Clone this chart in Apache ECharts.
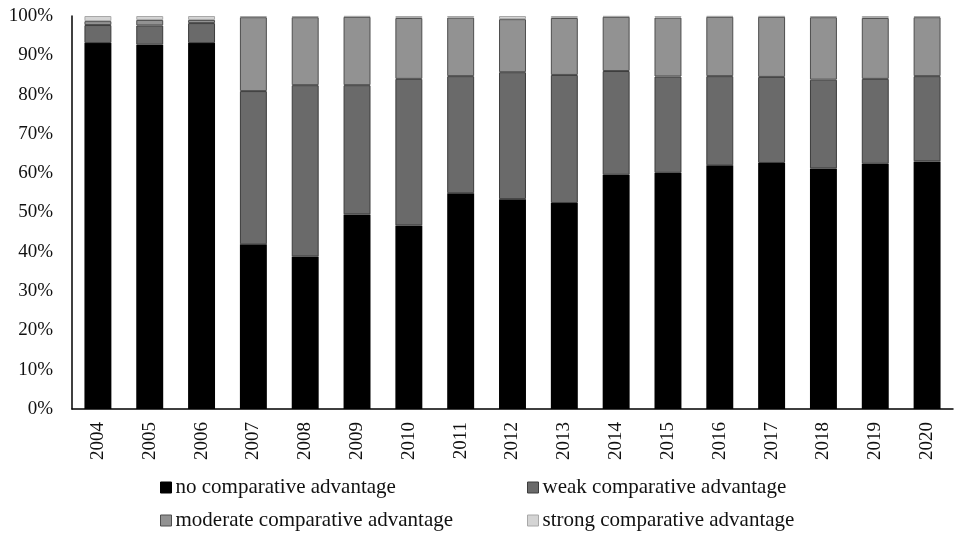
<!DOCTYPE html>
<html>
<head>
<meta charset="utf-8">
<script src="https://cdn.jsdelivr.net/npm/echarts@6/dist/echarts.min.js"></script>
<style>
  html, body { margin: 0; padding: 0; background: #fff; }
  #chart { width: 954px; height: 550px; }
</style>
</head>
<body>
<div id="chart"></div>
<script>
// Share of products by level of revealed comparative advantage, 2004-2020 (%)
const years = ['2004','2005','2006','2007','2008','2009','2010','2011','2012','2013','2014','2015','2016','2017','2018','2019','2020'];
const noAdv       = [93.1, 92.7, 93.1, 41.9, 38.8, 49.5, 46.7, 54.9, 53.4, 52.4, 59.6, 60.1, 62.0, 62.6, 61.2, 62.4, 63.0];
const weakAdv     = [4.6, 4.9, 5.1, 39.0, 43.6, 32.9, 37.3, 29.8, 32.3, 32.6, 26.4, 24.5, 22.7, 21.9, 22.6, 21.6, 21.7];
const moderateAdv = [1.0, 1.4, 0.8, 18.8, 17.3, 17.4, 15.5, 14.9, 13.5, 14.5, 13.8, 15.0, 15.1, 15.3, 15.9, 15.5, 15.0];
const strongAdv   = [1.3, 1.0, 1.0, 0.3, 0.3, 0.2, 0.5, 0.4, 0.8, 0.5, 0.2, 0.4, 0.2, 0.2, 0.3, 0.5, 0.3];
const yTicks = [0, 10, 20, 30, 40, 50, 60, 70, 80, 90, 100];

const names = ['no comparative advantage', 'weak comparative advantage',
               'moderate comparative advantage', 'strong comparative advantage'];
const fills = ['#000000', '#6a6a6a', '#929292', '#d4d4d4'];
const edges = ['#000000', '#3c3c3c', '#4e4e4e', '#a8a8a8'];
const values = [noAdv, weakAdv, moderateAdv, strongAdv];

const FONT = '"Liberation Serif", "DejaVu Serif", serif';

const chart = echarts.init(document.getElementById('chart'), null, { renderer: 'canvas' });

function legendAt(i, left, top) {
  return {
    data: [names[i]],
    left: left, top: top,
    orient: 'horizontal',
    icon: 'rect',
    itemWidth: 11, itemHeight: 11,
    itemGap: 0,
    padding: 0,
    selectedMode: false,
    textStyle: { fontFamily: FONT, fontSize: 21, color: '#111', padding: [0, 0, 0, -1] },
    itemStyle: { borderWidth: 1 }
  };
}

chart.setOption({
  animation: false,
  backgroundColor: '#ffffff',
  grid: { left: 72, right: 1, top: 16, bottom: 141, containLabel: false },
  legend: [
    legendAt(0, 160, 477),
    legendAt(1, 527, 477),
    legendAt(2, 160, 510),
    legendAt(3, 527, 510)
  ],
  xAxis: {
    type: 'category',
    data: years,
    axisLine: { show: true, lineStyle: { color: '#000', width: 1.5 } },
    axisTick: { show: false },
    axisLabel: { rotate: 90, margin: 13, fontFamily: FONT, fontSize: 19, color: '#111' }
  },
  yAxis: {
    type: 'value',
    min: yTicks[0], max: yTicks[yTicks.length - 1], interval: 10,
    axisLine: { show: true, lineStyle: { color: '#000', width: 1.5 } },
    axisTick: { show: false },
    splitLine: { show: false },
    axisLabel: { margin: 19, formatter: '{value}%', fontFamily: FONT, fontSize: 19, color: '#111' }
  },
  series: names.map((n, i) => ({
    name: n,
    type: 'bar',
    stack: 'share',
    barWidth: '52%',
    data: values[i],
    itemStyle: { color: fills[i], borderColor: edges[i], borderWidth: i === 0 ? 0 : 1 }
  }))
});
</script>
</body>
</html>
